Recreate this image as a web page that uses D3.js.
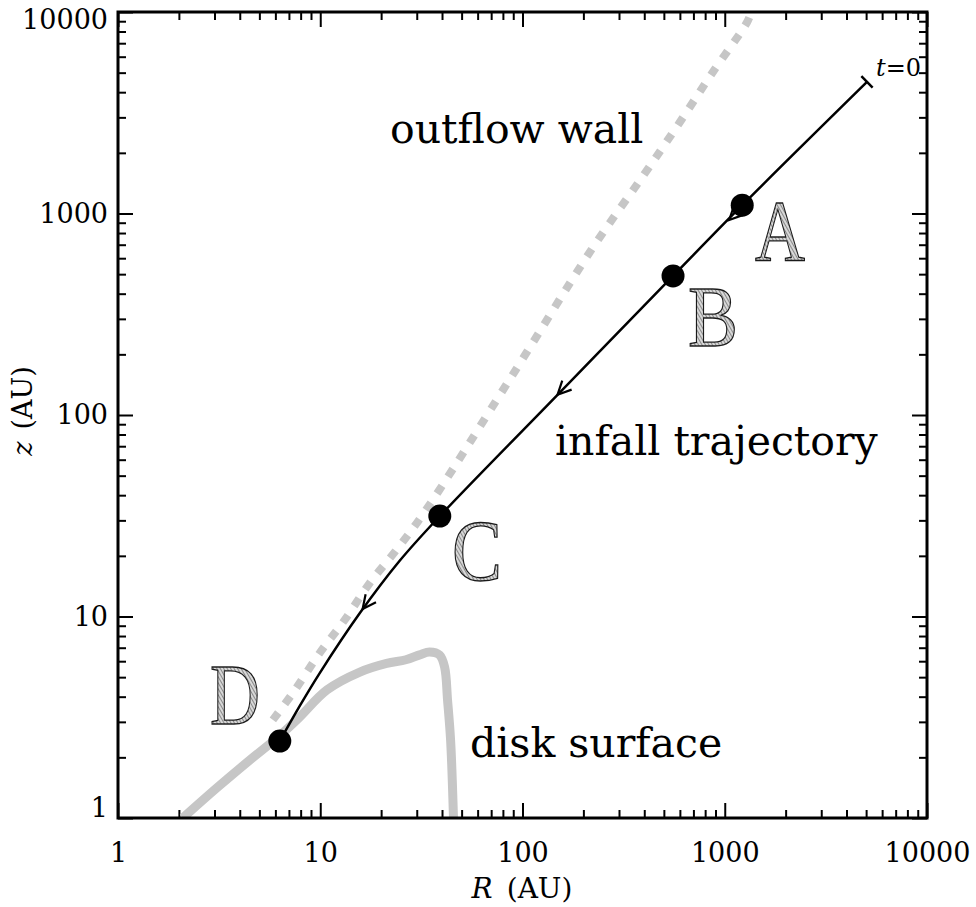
<!DOCTYPE html>
<html><head><meta charset="utf-8">
<script src="https://cdn.jsdelivr.net/npm/d3@7"></script>
<style>
html,body{margin:0;padding:0;background:#fff;}
svg{display:block;}
</style></head>
<body>
<svg id="chart" width="976" height="907"></svg>
<script>
// ---- data ----
const majorTicks = [1, 10, 100, 1000, 10000];
const tickLabels = ["1", "10", "100", "1000", "10000"];
const minorMultipliers = [2, 3, 4, 5, 6, 7, 8, 9];

// infall trajectory (R, z in AU), from t=0 inward
const trajR = [5050, 1220, 555, 149, 39, 24.7, 15.7, 9.94, 7.92, 6.31];
const trajZ = [4500, 1100, 490, 126, 31.5, 18.9, 10.4, 5.24, 3.60, 2.41];

// labelled points on trajectory
const pointNames = ["A", "B", "C", "D"];
const pointR = [1220, 555, 39, 6.31];
const pointZ = [1100, 490, 31.5, 2.41];

// direction arrows along trajectory
const arrowR = [1052, 149, 16.2];
const arrowZ = [929, 126, 10.9];

// outflow wall
const wallR = [5.83, 7.32, 9.94, 13.2, 17.6, 23.8, 32.8, 86, 222, 391, 596, 867, 1291, 1352];
const wallZ = [3.07, 4.17, 6.59, 9.61, 14.7, 21.4, 33.0, 149, 674, 1518, 2812, 4980, 8920, 10000];

// disk surface
const diskR = [2.09, 3.08, 4.49, 6.10, 7.74, 10.8, 15.7, 21.3, 26.5, 31.0, 34.7, 38.9, 41.2, 42.6, 44.1, 45.6];
const diskZ = [1.0, 1.41, 1.94, 2.49, 3.10, 4.32, 5.30, 5.85, 6.10, 6.45, 6.67, 6.44, 5.61, 3.85, 2.44, 0.98];

// ---- layout ----
const L = 118, R = 927, T = 12, B = 818;
const svg = d3.select("#chart");
const x = d3.scaleLog().domain([1, 10000]).range([L, R]);
const y = d3.scaleLog().domain([1, 10000]).range([B, T]);
const serif = "'DejaVu Serif', 'Liberation Serif', serif";

const minorTicks = [];
majorTicks.slice(0, -1).forEach(d => minorMultipliers.forEach(k => minorTicks.push(d * k)));

// defs: clip + hatch pattern
const defs = svg.append("defs");
defs.append("clipPath").attr("id", "plotclip").append("rect")
  .attr("x", L).attr("y", T).attr("width", R - L).attr("height", B - T);
const pat = defs.append("pattern").attr("id", "hatch").attr("patternUnits", "userSpaceOnUse")
  .attr("width", 3).attr("height", 3).attr("patternTransform", "rotate(-30)");
pat.append("rect").attr("width", 3).attr("height", 3).attr("fill", "#d8d8d8");
pat.append("line").attr("x1", 0).attr("y1", 0).attr("x2", 0).attr("y2", 3)
  .attr("stroke", "#3a3a3a").attr("stroke-width", 1);

// ---- axes ----
function styleAxis(g) {
  g.select(".domain").remove();
  g.selectAll(".tick line").attr("stroke", "#000").attr("stroke-width", 2);
  g.selectAll(".tick text").attr("font-family", serif).attr("font-size", 27).attr("fill", "#000");
}
const axes = svg.append("g");
// bottom
axes.append("g").attr("transform", `translate(0,${B})`)
  .call(d3.axisBottom(x).tickValues(majorTicks).tickSize(-15).tickPadding(25)
    .tickFormat((d, i) => tickLabels[i])).call(styleAxis);
axes.append("g").attr("transform", `translate(0,${B})`)
  .call(d3.axisBottom(x).tickValues(minorTicks).tickSize(-8).tickFormat("")).call(styleAxis);
// top
axes.append("g").attr("transform", `translate(0,${T})`)
  .call(d3.axisTop(x).tickValues(majorTicks).tickSize(-15).tickFormat("")).call(styleAxis);
axes.append("g").attr("transform", `translate(0,${T})`)
  .call(d3.axisTop(x).tickValues(minorTicks).tickSize(-8).tickFormat("")).call(styleAxis);
// left
const leftAx = axes.append("g").attr("transform", `translate(${L},0)`)
  .call(d3.axisLeft(y).tickValues(majorTicks).tickSize(-15).tickPadding(10)
    .tickFormat((d, i) => tickLabels[i])).call(styleAxis);
leftAx.selectAll(".tick text").attr("dy", d => d === 1 ? "-0.05em" : d === 10000 ? "0.62em" : "0.32em");
axes.append("g").attr("transform", `translate(${L},0)`)
  .call(d3.axisLeft(y).tickValues(minorTicks).tickSize(-8).tickFormat("")).call(styleAxis);
// right
axes.append("g").attr("transform", `translate(${R},0)`)
  .call(d3.axisRight(y).tickValues(majorTicks).tickSize(-15).tickFormat("")).call(styleAxis);
axes.append("g").attr("transform", `translate(${R},0)`)
  .call(d3.axisRight(y).tickValues(minorTicks).tickSize(-8).tickFormat("")).call(styleAxis);

// ---- curves ----
const plot = svg.append("g").attr("clip-path", "url(#plotclip)");
const line = d3.line().x(d => x(d[0])).y(d => y(d[1])).curve(d3.curveCatmullRom.alpha(0.5));

plot.append("path").datum(diskR.map((r, i) => [r, diskZ[i]]))
  .attr("d", line).attr("fill", "none").attr("stroke", "#c6c6c6")
  .attr("stroke-width", 9).attr("stroke-linejoin", "round");

plot.append("path").datum(wallR.map((r, i) => [r, wallZ[i]]))
  .attr("d", line).attr("fill", "none").attr("stroke", "#c6c6c6")
  .attr("stroke-width", 8).attr("stroke-dasharray", "9,11");

const traj = trajR.map((r, i) => [r, trajZ[i]]);
plot.append("path").datum(traj)
  .attr("d", line).attr("fill", "none").attr("stroke", "#000").attr("stroke-width", 2.5);

// t=0 end bar
{
  const p0 = [x(trajR[0]), y(trajZ[0])], p1 = [x(trajR[1]), y(trajZ[1])];
  const ang = Math.atan2(p0[1] - p1[1], p0[0] - p1[0]);
  const hx = Math.cos(ang + Math.PI / 2) * 8, hy = Math.sin(ang + Math.PI / 2) * 8;
  svg.append("line").attr("x1", p0[0] - hx).attr("y1", p0[1] - hy)
    .attr("x2", p0[0] + hx).attr("y2", p0[1] + hy)
    .attr("stroke", "#000").attr("stroke-width", 2.5);
}

// arrows (open chevrons pointing along the infall direction)
arrowR.forEach((ar, i) => {
  let k = 0;
  while (k < trajR.length - 2 && trajR[k + 1] > ar) k++;
  const a = [x(trajR[k]), y(trajZ[k])], b = [x(trajR[k + 1]), y(trajZ[k + 1])];
  const ang = Math.atan2(b[1] - a[1], b[0] - a[0]);
  const tip = [x(ar), y(arrowZ[i])];
  const len = 15, spread = 0.45;
  const p1 = [tip[0] - len * Math.cos(ang - spread), tip[1] - len * Math.sin(ang - spread)];
  const p2 = [tip[0] - len * Math.cos(ang + spread), tip[1] - len * Math.sin(ang + spread)];
  svg.append("path").attr("d", `M${p1[0]},${p1[1]}L${tip[0]},${tip[1]}L${p2[0]},${p2[1]}`)
    .attr("fill", "none").attr("stroke", "#000").attr("stroke-width", 2.2);
});

// points
svg.selectAll("circle.pt").data(pointR).enter().append("circle").attr("class", "pt")
  .attr("cx", d => x(d)).attr("cy", (d, i) => y(pointZ[i])).attr("r", 11.5).attr("fill", "#000");

// frame
svg.append("rect").attr("x", L).attr("y", T).attr("width", R - L).attr("height", B - T)
  .attr("fill", "none").attr("stroke", "#000").attr("stroke-width", 3);

// ---- letters A-D ----
const letterPos = [[755, 260], [688, 346], [452, 580], [210, 724]];
pointNames.forEach((n, i) => {
  svg.append("text").attr("x", letterPos[i][0]).attr("y", letterPos[i][1])
    .attr("font-family", "'Liberation Serif', serif").attr("font-size", 86)
    .attr("textLength", 50).attr("lengthAdjust", "spacingAndGlyphs")
    .attr("fill", "url(#hatch)").attr("stroke", "#1a1a1a").attr("stroke-width", 1.3)
    .text(n);
});

// ---- annotations ----
function annot(txt, xx, yy) {
  svg.append("text").attr("x", xx).attr("y", yy).attr("font-family", serif)
    .attr("font-size", 41).attr("fill", "#000").text(txt);
}
annot("outflow wall", 390, 143);
annot("infall trajectory", 555, 455);
annot("disk surface", 470, 757);

const t0 = svg.append("text").attr("x", 876).attr("y", 76).attr("font-family", serif)
  .attr("font-size", 24).attr("fill", "#000");
t0.append("tspan").attr("font-style", "italic").text("t");
t0.append("tspan").text("=0");

// axis titles
const xt = svg.append("text").attr("x", 522).attr("y", 898).attr("text-anchor", "middle")
  .attr("font-family", serif).attr("font-size", 28).attr("fill", "#000");
xt.append("tspan").attr("font-style", "italic").text("R");
xt.append("tspan").attr("dx", 14).text("(AU)");

const yt = svg.append("text").attr("transform", "translate(32,411) rotate(-90)")
  .attr("text-anchor", "middle").attr("font-family", serif).attr("font-size", 27).attr("fill", "#000");
yt.append("tspan").attr("font-style", "italic").text("z");
yt.append("tspan").attr("dx", 12).text("(AU)");
</script>
</body></html>
